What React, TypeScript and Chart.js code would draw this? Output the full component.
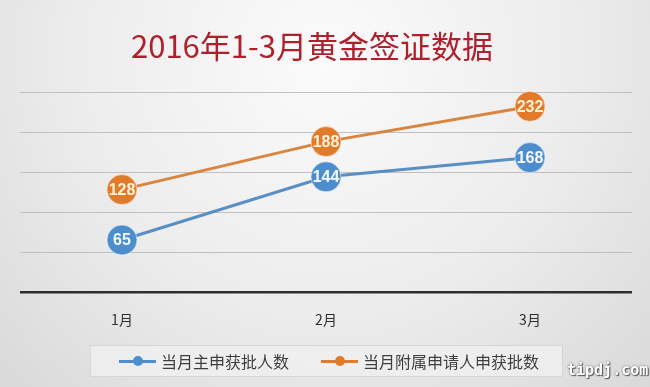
import React, { useEffect, useRef } from "react";
import { Chart, registerables } from "chart.js";

Chart.register(...registerables);

const TITLE = "2016年1-3月黄金签证数据";
const MONTHS = ["1月", "2月", "3月"];
const MAIN_APPROVED = [65, 144, 168];
const DEPENDENT_APPROVED = [128, 188, 232];
const SERIES_NAMES = ["当月主申获批人数", "当月附属申请人申获批数"];
const Y_MIN = 0;
const Y_MAX = 250;
const Y_STEP = 50;
const WATERMARK = "tipdj.com";

const BLUE = "#4e8dcc";
const BLUE_LINE = "#5a8fc4";
const ORANGE = "#e27a2c";
const ORANGE_LINE = "#d98540";

const overlayPlugin = {
  id: "overlay",
  afterDatasetsDraw(chart: any) {
    const ctx = chart.ctx;
    chart.data.datasets.forEach((ds: any, i: number) => {
      const meta = chart.getDatasetMeta(i);
      meta.data.forEach((pt: any, j: number) => {
        ctx.save();
        ctx.font = 'bold 16px "Liberation Sans", Arial, sans-serif';
        ctx.textAlign = "center";
        ctx.textBaseline = "middle";
        ctx.fillStyle = i === 0 ? "#f4fbff" : "#fff3d8";
        ctx.fillText(String(ds.data[j]), pt.x, pt.y + 1);
        ctx.restore();
      });
    });
  },
  afterDraw(chart: any) {
    const ctx = chart.ctx;
    ctx.save();
    ctx.font = '31px "Noto Sans CJK SC", sans-serif';
    ctx.textAlign = "center";
    ctx.textBaseline = "middle";
    ctx.fillStyle = "#ad212d";
    ctx.fillText(TITLE, 312, 46);
    ctx.restore();
  },
};

function LegendItem({ color, label, gap }: { color: string; label: string; gap: number }) {
  return (
    <div style={{ display: "flex", alignItems: "center", marginRight: gap }}>
      <div style={{ position: "relative", width: 37, height: 12, marginRight: 5 }}>
        <div style={{ position: "absolute", left: 0, right: 0, top: 5, height: 3, background: color }} />
        <div
          style={{
            position: "absolute",
            left: 14,
            top: 1,
            width: 10,
            height: 10,
            borderRadius: 5,
            background: color,
          }}
        />
      </div>
      <span style={{ fontSize: 16, color: "#3e3e3e", fontFamily: '"Noto Sans CJK SC", sans-serif' }}>{label}</span>
    </div>
  );
}

export default function App() {
  const canvasRef = useRef<HTMLCanvasElement | null>(null);

  useEffect(() => {
    if (!canvasRef.current) return;
    const chart = new Chart(canvasRef.current, {
      type: "line",
      data: {
        labels: MONTHS,
        datasets: [
          {
            label: SERIES_NAMES[0],
            data: MAIN_APPROVED,
            borderColor: BLUE_LINE,
            backgroundColor: BLUE,
            pointBackgroundColor: BLUE,
            pointBorderColor: "rgba(255,255,255,0.5)",
            pointBorderWidth: 1,
            pointRadius: 15,
            borderWidth: 3,
            tension: 0,
            clip: false as any,
          },
          {
            label: SERIES_NAMES[1],
            data: DEPENDENT_APPROVED,
            borderColor: ORANGE_LINE,
            backgroundColor: ORANGE,
            pointBackgroundColor: ORANGE,
            pointBorderColor: "rgba(255,255,255,0.5)",
            pointBorderWidth: 1,
            pointRadius: 15,
            borderWidth: 3,
            tension: 0,
            clip: false as any,
          },
        ],
      },
      options: {
        responsive: false,
        animation: false,
        layout: { padding: { left: 20, right: 18, top: 92, bottom: 0 } },
        plugins: {
          legend: { display: false },
          title: { display: false },
          tooltip: { enabled: false },
        },
        scales: {
          x: {
            offset: true,
            grid: { display: false },
            border: { display: false },
            ticks: {
              color: "#2e2e2e",
              font: { size: 14, family: '"Noto Sans CJK SC", sans-serif' },
              padding: 11,
            },
            afterFit: (s: any) => {
              s.height = 95;
            },
          },
          y: {
            min: Y_MIN,
            max: Y_MAX,
            ticks: { display: false, stepSize: Y_STEP },
            border: { display: false },
            grid: {
              drawTicks: false,
              color: (c: any) => (c.tick && c.tick.value === 0 ? "#2e2e2e" : "#c0c0c0"),
              lineWidth: (c: any) => (c.tick && c.tick.value === 0 ? 2.5 : 1),
            },
            afterFit: (s: any) => {
              s.width = 0;
            },
          },
        },
      },
      plugins: [overlayPlugin],
    });
    return () => chart.destroy();
  }, []);

  return (
    <div
      style={{
        position: "absolute",
        left: 0,
        top: 0,
        width: 650,
        height: 387,
        overflow: "hidden",
        background: "radial-gradient(ellipse at 50% 15%, #fbfbfb 0%, #ececec 55%, #d9d9d9 100%)",
      }}
    >
      <canvas ref={canvasRef} width={650} height={387} style={{ position: "absolute", left: 0, top: 0 }} />
      <div
        style={{
          position: "absolute",
          left: 90,
          top: 345,
          width: 473,
          height: 32,
          background: "rgba(240,240,240,0.8)",
          border: "1px solid #d6d6d6",
          display: "flex",
          alignItems: "center",
          paddingLeft: 28,
          boxSizing: "border-box",
        }}
      >
        <LegendItem color={BLUE} label={SERIES_NAMES[0]} gap={32} />
        <LegendItem color={ORANGE} label={SERIES_NAMES[1]} gap={0} />
      </div>
      <div
        style={{
          position: "absolute",
          left: 567,
          top: 361,
          fontFamily: '"DejaVu Sans Mono", monospace',
          fontSize: 15,
          fontWeight: "bold",
          color: "#ffffff",
          textShadow: "0 0 2px #555, 1px 1px 1px #555",
        }}
      >
        {WATERMARK}
      </div>
    </div>
  );
}
